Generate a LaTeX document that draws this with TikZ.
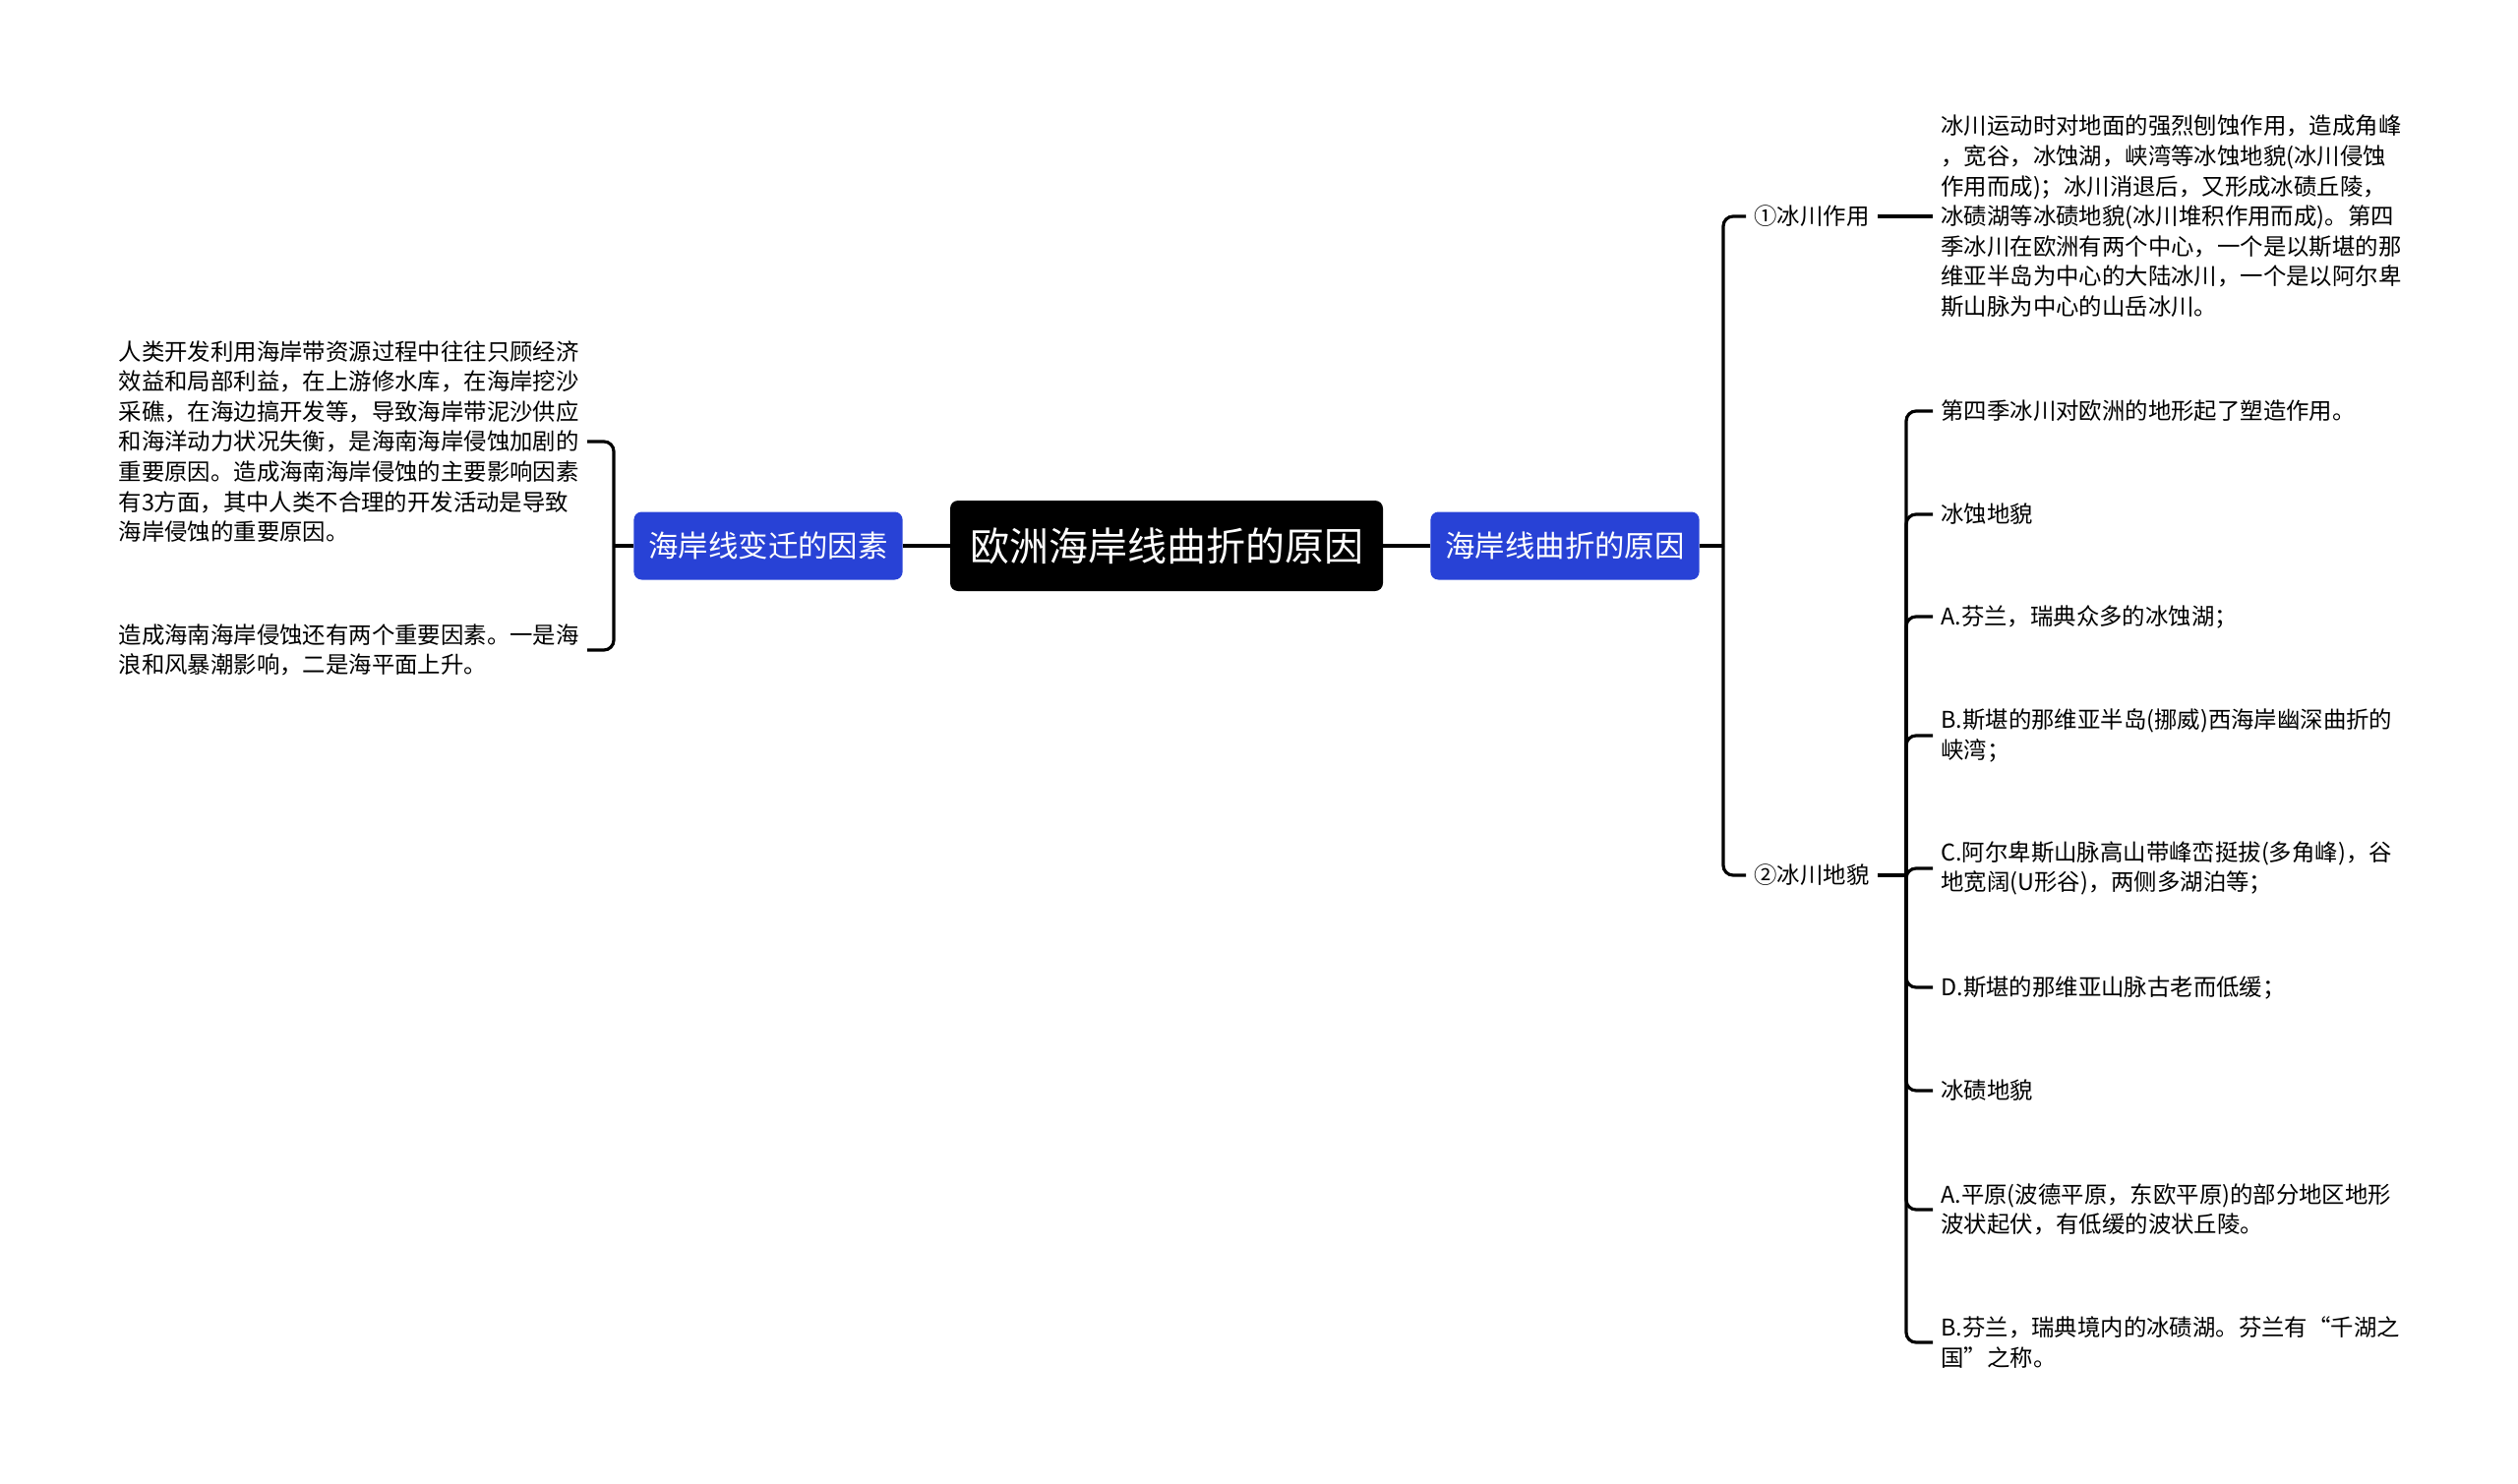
\documentclass[tikz,border=0pt]{standalone}
\usepackage{fontspec}
\setmainfont{Noto Sans CJK SC}
\definecolor{topicblue}{RGB}{40,66,214}

\begin{document}
\begin{tikzpicture}[x=0.5pt,y=-0.5pt,
    rootbox/.style={fill=black,text=white,rounded corners=4pt,minimum height=46pt,inner xsep=10pt,font=\fontsize{20}{24}\selectfont},
    topicbox/.style={fill=topicblue,text=white,rounded corners=4pt,minimum height=34.5pt,inner xsep=7.5pt,font=\fontsize{15.2}{18}\selectfont},
    leaf/.style={align=left,inner xsep=4pt,inner ysep=0pt,font=\fontsize{11.7}{15.3}\selectfont},
    link/.style={line width=1.6pt},
    bracket/.style={line width=1.6pt,rounded corners=5pt}]
  \useasboundingbox (0,0) rectangle (2560,1509);

  % centre
  \node[rootbox] (root) at (1186,555) {欧洲海岸线曲折的原因};
  \node[topicbox] (change) at (781,555) {海岸线变迁的因素};
  \node[topicbox] (reason) at (1591,555) {海岸线曲折的原因};
  \draw[link] (root.west) -- (change.east);
  \draw[link] (root.east) -- (reason.west);

  % left branch
  \node[leaf,anchor=east] (human) at (597,449) {人类开发利用海岸带资源过程中往往只顾经济\\
效益和局部利益，在上游修水库，在海岸挖沙\\
采礁，在海边搞开发等，导致海岸带泥沙供应\\
和海洋动力状况失衡，是海南海岸侵蚀加剧的\\
重要原因。造成海南海岸侵蚀的主要影响因素\\
有3方面，其中人类不合理的开发活动是导致\\
海岸侵蚀的重要原因。};
  \node[leaf,anchor=east] (wave) at (597,661) {造成海南海岸侵蚀还有两个重要因素。一是海\\
浪和风暴潮影响，二是海平面上升。};
  \coordinate (lb) at (624,555);
  \draw[link] (change.west) -- (lb);
  \draw[bracket] (lb) |- (human.east);
  \draw[bracket] (lb) |- (wave.east);

  % right branch
  \coordinate (rb) at (1752,555);
  \draw[link] (reason.east) -- (rb);
  \node[leaf,anchor=west] (act) at (1775,220) {①冰川作用};
  \node[leaf,anchor=west] (form) at (1775,890) {②冰川地貌};
  \draw[bracket] (rb) |- (act.west);
  \draw[bracket] (rb) |- (form.west);

  % glacial action
  \node[leaf,anchor=west] (actnote) at (1965,220) {冰川运动时对地面的强烈刨蚀作用，造成角峰\\
，宽谷，冰蚀湖，峡湾等冰蚀地貌(冰川侵蚀\\
作用而成)；冰川消退后，又形成冰碛丘陵，\\
冰碛湖等冰碛地貌(冰川堆积作用而成)。第四\\
季冰川在欧洲有两个中心，一个是以斯堪的那\\
维亚半岛为中心的大陆冰川，一个是以阿尔卑\\
斯山脉为中心的山岳冰川。};
  \draw[link] (act.east) -- (actnote.west);

  % glacial landforms
  \coordinate (fb) at (1938,890);
  \draw[link] (form.east) -- (fb);
  \foreach \y/\nm/\txt in {
      418/f1/{第四季冰川对欧洲的地形起了塑造作用。},
      523/f2/{冰蚀地貌},
      627/f3/{A.芬兰，瑞典众多的冰蚀湖；},
      748/f4/{B.斯堪的那维亚半岛(挪威)西海岸幽深曲折的\\峡湾；},
      883/f5/{C.阿尔卑斯山脉高山带峰峦挺拔(多角峰)，谷\\地宽阔(U形谷)，两侧多湖泊等；},
      1004/f6/{D.斯堪的那维亚山脉古老而低缓；},
      1109/f7/{冰碛地貌},
      1230/f8/{A.平原(波德平原，东欧平原)的部分地区地形\\波状起伏，有低缓的波状丘陵。},
      1365/f9/{B.芬兰，瑞典境内的冰碛湖。芬兰有“千湖之\\国”之称。}} {
    \node[leaf,anchor=west] (\nm) at (1965,\y) {\txt};
    \draw[bracket] (fb) |- (\nm.west);
  }
\end{tikzpicture}
\end{document}
